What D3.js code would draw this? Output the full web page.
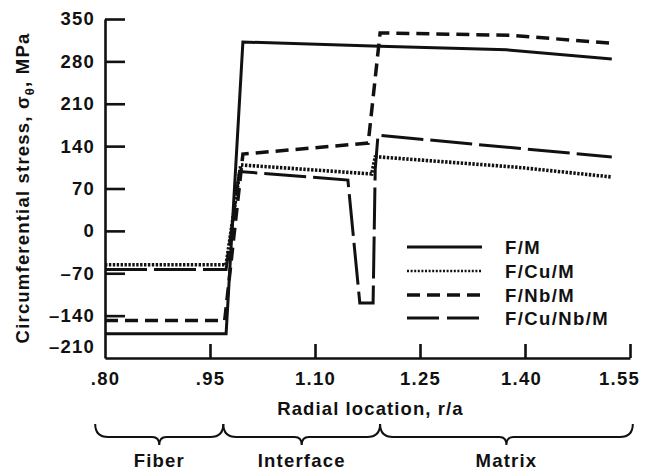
<!DOCTYPE html>
<html>
<head>
<meta charset="utf-8">
<script src="https://cdn.jsdelivr.net/npm/d3@7"></script>
<style>
  html, body { margin: 0; padding: 0; background: #fff; }
  svg text { font-family: "Liberation Sans", Arial, Helvetica, sans-serif; font-weight: bold; fill: #111; }
</style>
</head>
<body>
<svg id="chart" width="651" height="470"></svg>
<script>
// Radial tick positions and labels
const xTicks = [0.80, 0.95, 1.10, 1.25, 1.40, 1.55];
const xTickLabels = [".80", ".95", "1.10", "1.25", "1.40", "1.55"];
const yTicks = [-210, -140, -70, 0, 70, 140, 210, 280, 350];
const yTickLabels = ["\u2013210", "\u2013140", "\u201370", "0", "70", "140", "210", "280", "350"];

// Circumferential stress profiles (r/a, MPa)
const fmR = [0.80, 0.973, 0.997, 1.193, 1.374, 1.524];
const fmS = [-170, -170, 312, 305, 299, 284];

const cuR = [0.80, 0.973, 0.994, 1.181, 1.186, 1.193, 1.39, 1.524];
const cuS = [-56, -56, 109, 94, 122, 122, 105, 89];

const nbR = [0.80, 0.971, 0.997, 1.176, 1.193, 1.38, 1.524];
const nbS = [-148, -148, 127, 145, 327, 323, 310];

const cnR = [0.80, 0.973, 0.992, 1.147, 1.164, 1.183, 1.186, 1.19, 1.524];
const cnS = [-64, -64, 98, 84, -119, -119, 101, 158, 122];

const seriesNames = ["F/M", "F/Cu/M", "F/Nb/M", "F/Cu/Nb/M"];

// Region braces below the axis (r/a bounds) and their names
const regionBounds = [0.786, 0.969, 1.193, 1.554];
const regionNames = ["Fiber", "Interface", "Matrix"];

const svg = d3.select("#chart");
const x = d3.scaleLinear().domain([0.80, 1.55]).range([105, 630]);
const y = d3.scaleLinear().domain([-210, 350]).range([358, 19]);

const styles = [
  { dash: null, width: 3 },
  { dash: "2.4,1.5", width: 3.6 },
  { dash: "13,7", width: 3.5 },
  { dash: "42,7", width: 3 }
];

const series = [
  { r: fmR, s: fmS },
  { r: cuR, s: cuS },
  { r: nbR, s: nbS },
  { r: cnR, s: cnS }
];

const line = d3.line().x(d => x(d[0])).y(d => y(d[1]));

series.forEach((sr, i) => {
  const pts = sr.r.map((r, k) => [r, sr.s[k]]);
  svg.append("path")
    .attr("d", line(pts))
    .attr("fill", "none")
    .attr("stroke", "#111")
    .attr("stroke-width", styles[i].width)
    .attr("stroke-linejoin", "miter")
    .attr("stroke-dasharray", styles[i].dash);
});

// Axes
const fontSize = 18.5;
const yAxis = d3.axisLeft(y)
  .tickValues(yTicks)
  .tickFormat((d, i) => yTickLabels[i])
  .tickSizeInner(-20)
  .tickSizeOuter(0)
  .tickPadding(10);

const gy = svg.append("g").attr("transform", `translate(${x(0.80)},0)`).call(yAxis);

const xAxis = d3.axisBottom(x)
  .tickValues(xTicks)
  .tickFormat((d, i) => xTickLabels[i])
  .tickSizeInner(-14)
  .tickSizeOuter(0)
  .tickPadding(14);

const gx = svg.append("g").attr("transform", `translate(0,${y(-210)})`).call(xAxis);

[gx, gy].forEach(g => {
  g.select(".domain").attr("stroke", "#111").attr("stroke-width", 2.6);
  g.selectAll(".tick line").attr("stroke", "#111").attr("stroke-width", 2.6);
  g.selectAll(".tick text")
    .attr("fill", "#111")
    .style("font-size", fontSize + "px")
    .style("letter-spacing", "1.2px")
    .attr("font-family", null);
});
gx.selectAll(".tick").filter(d => d === 0.80).select("line").remove();
gy.selectAll(".tick").filter(d => d === -210).select("line").remove();
// keep the corner labels clear of each other and of the frame edge
gy.selectAll(".tick").filter(d => d === -210).select("text").attr("dy", "-0.28em");
gx.selectAll(".tick").filter(d => d === 1.55).select("text").attr("dx", "-11");
gx.selectAll(".tick").filter(d => d === 1.40).select("text").attr("dx", "-4");

// Axis titles
svg.append("text")
  .attr("x", (x(0.80) + x(1.55)) / 2 + 3)
  .attr("y", 415)
  .attr("text-anchor", "middle")
  .style("font-size", fontSize + "px")
  .style("letter-spacing", "1.1px")
  .text("Radial location, r/a");

const yt = svg.append("text")
  .attr("transform", "translate(29,188) rotate(-90)")
  .attr("text-anchor", "middle")
  .style("font-size", fontSize + "px")
  .style("letter-spacing", "1.2px");
yt.append("tspan").text("Circumferential stress, \u03c3");
yt.append("tspan").attr("dy", 5).style("font-size", "13px").text("\u03b8");
yt.append("tspan").attr("dy", -5).text(", MPa");

// Legend
const legX0 = 407, legX1 = 482, legTextX = 505;
const legY = [247, 271, 295, 318];
seriesNames.forEach((name, i) => {
  svg.append("line")
    .attr("x1", legX0).attr("x2", legX1)
    .attr("y1", legY[i]).attr("y2", legY[i])
    .attr("stroke", "#111")
    .attr("stroke-width", i === 1 ? 2.6 : styles[i].width)
    .attr("stroke-dasharray", i === 3 ? "32,8" : (i === 1 ? "2,1.6" : styles[i].dash));
  svg.append("text")
    .attr("x", legTextX)
    .attr("y", legY[i] + 7)
    .style("font-size", fontSize + "px")
    .style("letter-spacing", "1.4px")
    .text(name);
});

// Curly braces marking regions
function brace(xa, xb) {
  const y0 = 424, y1 = 437, y2 = 445, r = 13, rc = 7;
  const xm = (xa + xb) / 2;
  return `M${xa},${y0} Q${xa},${y1} ${xa + r},${y1} L${xm - rc},${y1} Q${xm},${y1} ${xm},${y2}` +
         ` Q${xm},${y1} ${xm + rc},${y1} L${xb - r},${y1} Q${xb},${y1} ${xb},${y0}`;
}
regionNames.forEach((name, i) => {
  const xa = x(regionBounds[i]), xb = x(regionBounds[i + 1]);
  svg.append("path")
    .attr("d", brace(xa, xb))
    .attr("fill", "none")
    .attr("stroke", "#111")
    .attr("stroke-width", 2);
  svg.append("text")
    .attr("x", (xa + xb) / 2)
    .attr("y", 467)
    .attr("text-anchor", "middle")
    .style("font-size", fontSize + "px")
    .style("letter-spacing", "1.2px")
    .text(name);
});
</script>
</body>
</html>
